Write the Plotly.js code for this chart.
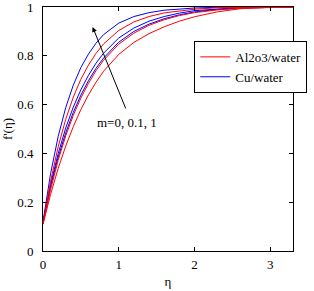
<!DOCTYPE html>
<html>
<head>
<meta charset="utf-8">
<script src="https://cdn.plot.ly/plotly-3.0.1.min.js"></script>
<style>html,body{margin:0;padding:0;background:#fff;}#plot{width:314px;height:291px;}</style>
</head>
<body>
<div id="plot"></div>
<script>
// eta grid
const eta = [0, 0.1, 0.2, 0.3, 0.4, 0.5, 0.6, 0.7, 0.8, 1.0, 1.2, 1.4, 1.6, 1.8, 2.0, 2.3, 2.6, 3.0, 3.3];
// Cu/water, m = 0, 0.1, 1
const cu_m0   = [0.12, 0.317, 0.469, 0.588, 0.680, 0.752, 0.807, 0.852, 0.887, 0.934, 0.961, 0.977, 0.987, 0.993, 0.996, 0.999, 1.000, 1.000, 1.000];
const cu_m01  = [0.12, 0.273, 0.399, 0.504, 0.590, 0.661, 0.720, 0.770, 0.811, 0.873, 0.914, 0.942, 0.961, 0.975, 0.985, 0.993, 0.998, 1.000, 1.000];
const cu_m1   = [0.12, 0.264, 0.384, 0.484, 0.568, 0.639, 0.698, 0.749, 0.791, 0.856, 0.900, 0.930, 0.952, 0.968, 0.980, 0.990, 0.996, 1.000, 1.000];
// Al2O3/water, m = 0, 0.1, 1
const al_m0   = [0.11, 0.286, 0.427, 0.540, 0.631, 0.704, 0.762, 0.810, 0.849, 0.904, 0.939, 0.961, 0.976, 0.985, 0.991, 0.997, 0.999, 1.000, 1.000];
const al_m01  = [0.11, 0.252, 0.372, 0.472, 0.556, 0.627, 0.687, 0.739, 0.782, 0.848, 0.893, 0.925, 0.948, 0.965, 0.977, 0.988, 0.995, 0.999, 1.000];
const al_m1   = [0.11, 0.232, 0.338, 0.430, 0.510, 0.580, 0.640, 0.692, 0.737, 0.806, 0.855, 0.891, 0.919, 0.942, 0.960, 0.980, 0.993, 0.999, 1.000];

const seriesNames = ['Al2o3/water', 'Cu/water'];
const xTicks = [0, 1, 2, 3];
const yTicks = [0, 0.2, 0.4, 0.6, 0.8, 1];
const annText = 'm=0, 0.1, 1';

const RED = '#ff0000', BLUE = '#0000ff';
function tr(y, color, name, show) {
  return {x: eta, y: y, type: 'scatter', mode: 'lines', line: {color: color, width: 1},
          name: name, showlegend: show, legendgroup: name, hoverinfo: 'skip', cliponaxis: false};
}
const data = [
  tr(cu_m0, BLUE, seriesNames[1], false),
  tr(cu_m01, BLUE, seriesNames[1], false),
  tr(cu_m1, BLUE, seriesNames[1], false),
  tr(al_m0, RED, seriesNames[0], true),
  tr(al_m01, RED, seriesNames[0], false),
  tr(al_m1, RED, seriesNames[0], false),
  Object.assign(tr([null], BLUE, seriesNames[1], true), {x: [null]})
];
const F = 'Liberation Serif, Times New Roman, serif';
const layout = {
  width: 314, height: 291,
  margin: {l: 43, r: 10, t: 7, b: 40},
  paper_bgcolor: '#fff', plot_bgcolor: '#fff',
  font: {family: F, size: 13, color: '#000'},
  showlegend: true,
  legend: {x: 0.605, y: 0.861, xanchor: 'left', yanchor: 'top', bgcolor: '#fff',
           bordercolor: '#000', borderwidth: 1, font: {family: F, size: 13},
           itemwidth: 30, tracegroupgap: 0, traceorder: 'normal'},
  xaxis: {range: [0, 3.3], tickvals: xTicks, ticktext: xTicks.map(String), ticks: 'inside', ticklen: 4,
          tickcolor: '#000', showline: true, linecolor: '#000', linewidth: 1, mirror: 'allticks',
          showgrid: false, zeroline: false, fixedrange: true, ticklabelstandoff: 1,
          ticklabeloverflow: 'allow',
          tickfont: {family: F, size: 13, color: '#000'},
          title: {text: 'η', font: {family: F, size: 13}, standoff: 6}},
  yaxis: {range: [0, 1.0001], tickvals: yTicks, ticktext: yTicks.map(String), ticks: 'inside', ticklen: 4,
          tickcolor: '#000', showline: true, linecolor: '#000', linewidth: 1, mirror: 'allticks',
          showgrid: false, zeroline: false, fixedrange: true, ticklabelstandoff: 6,
          ticklabeloverflow: 'allow',
          tickfont: {family: F, size: 13, color: '#000'},
          title: {text: "f'(η)", font: {family: F, size: 13}, standoff: 6}},
  annotations: [
    {x: 0.655, y: 0.918, ax: 1.10, ay: 0.578, axref: 'x', ayref: 'y', xref: 'x', yref: 'y',
     text: '', showarrow: true, arrowhead: 2, arrowsize: 1, arrowwidth: 1, arrowcolor: '#000'},
    {x: 1.11, y: 0.525, xref: 'x', yref: 'y', text: annText, showarrow: false,
     font: {family: F, size: 13, color: '#000'}}
  ]
};
Plotly.newPlot('plot', data, layout, {displayModeBar: false, staticPlot: true});
</script>
</body>
</html>
